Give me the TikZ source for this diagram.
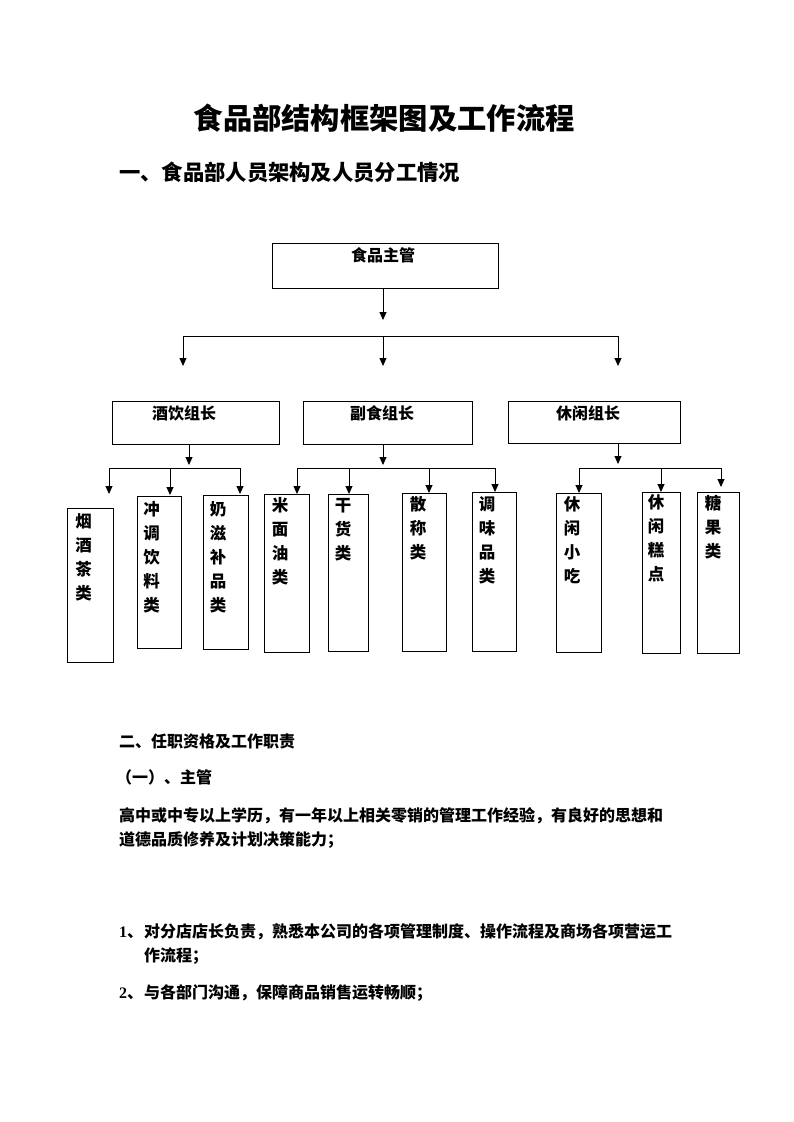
\documentclass[tikz,border=0pt]{standalone}
\usepackage{fontspec}
\setmainfont{Noto Sans CJK SC}
\newfontfamily\latserif{Liberation Serif}
\usetikzlibrary{arrows.meta}
\begin{document}
\begin{tikzpicture}[x=1pt,y=-1pt,
  bx/.style={draw,line width=0.9pt,inner sep=0,outer sep=0},
  ln/.style={line width=0.9pt},
  arr/.style={line width=0.9pt,-{Triangle[length=8pt,width=7pt]}},
  lbl/.style={anchor=base,inner sep=0,font=\bfseries\fontsize{16}{20}\selectfont},
  col/.style={anchor=north,inner sep=0,align=center,font=\bfseries\fontsize{16.5}{24}\selectfont},
  txt/.style={anchor=base west,inner sep=0,font=\bfseries\fontsize{16}{20}\selectfont}]
\fill[white] (0,0) rectangle (793,1122);
\useasboundingbox (0,0) rectangle (793,1122);

% titles
\node[anchor=base west,inner sep=0,font=\bfseries\fontsize{29.3}{35}\selectfont] (title) at (193.5,129) {食品部结构框架图及工作流程};
\node[anchor=base west,inner sep=0,font=\bfseries\fontsize{21.3}{26}\selectfont] (h1) at (119,180) {一、食品部人员架构及人员分工情况};

% top box
\node[bx,minimum width=226pt,minimum height=45pt] (top) at (385,265.5) {};
\node[lbl] (topt) at (383,261.1) {食品主管};
\coordinate (t1) at (383,320);
\draw[arr] (top.south -| t1) -- (t1);

% bar 1
\coordinate (b1l) at (183,336);
\coordinate (b1m) at (383,336);
\coordinate (b1r) at (618,336);
\coordinate (e1l) at (183,366);
\coordinate (e1m) at (383,366);
\coordinate (e1r) at (618,366);
\draw[ln] (b1l) -- (b1r);
\draw[arr] (b1l) -- (e1l);
\draw[arr] (b1m) -- (e1m);
\draw[arr] (b1r) -- (e1r);

% mid boxes
\node[bx,minimum width=167pt,minimum height=43pt] (A) at (195.5,422.5) {};
\node[lbl] (At) at (184,419.1) {酒饮组长};
\node[bx,minimum width=169pt,minimum height=43pt] (B) at (387.5,422.5) {};
\node[lbl] (Bt) at (382,419.1) {副食组长};
\node[bx,minimum width=172pt,minimum height=42pt] (C) at (594,422) {};
\node[lbl] (Ct) at (588,419.1) {休闲组长};

\coordinate (ea) at (189,465);
\coordinate (eb) at (383,465);
\coordinate (ec) at (618,464);
\draw[arr] (A.south -| ea) -- (ea);
\draw[arr] (B.south -| eb) -- (eb);
\draw[arr] (C.south -| ec) -- (ec);

% bar 2 left
\coordinate (p1) at (109,468);
\coordinate (p2) at (170,468);
\coordinate (p3) at (240,468);
\draw[ln] (p1) -- (p3);
% bar 2 middle
\coordinate (p4) at (297,468);
\coordinate (p5) at (349,468);
\coordinate (p6) at (429,468);
\coordinate (p7) at (495,468);
\draw[ln] (p4) -- (p7);
% bar 2 right
\coordinate (p8) at (579,468);
\coordinate (p9) at (661,468);
\coordinate (p10) at (721,468);
\draw[ln] (p8) -- (p10);

% leaf boxes
\node[bx,minimum width=46pt,minimum height=154pt] (L1) at (90,585) {};
\node[bx,minimum width=44pt,minimum height=152pt] (L2) at (159,572) {};
\node[bx,minimum width=45pt,minimum height=154pt] (L3) at (225.5,572) {};
\node[bx,minimum width=45pt,minimum height=158pt] (L4) at (286.5,573) {};
\node[bx,minimum width=40pt,minimum height=157pt] (L5) at (348,572.5) {};
\node[bx,minimum width=44pt,minimum height=158pt] (L6) at (424,572) {};
\node[bx,minimum width=44pt,minimum height=159pt] (L7) at (494,571.5) {};
\node[bx,minimum width=45pt,minimum height=159pt] (L8) at (578.5,572.5) {};
\node[bx,minimum width=38pt,minimum height=161pt] (L9) at (661,572.5) {};
\node[bx,minimum width=42pt,minimum height=161pt] (L10) at (718,572.5) {};

\coordinate (q1) at (109,494);
\coordinate (q2) at (170,495);
\coordinate (q3) at (240,494);
\coordinate (q4) at (297,494);
\coordinate (q5) at (349,494);
\coordinate (q6) at (429,493);
\coordinate (q7) at (495,492);
\coordinate (q8) at (579,493);
\coordinate (q9) at (661,492);
\coordinate (q10) at (721,487);
\foreach \i in {1,...,10} {\draw[arr] (p\i) -- (q\i);}

% leaf texts
\node[col] (T1) at (83.5,512.7) {\rule{0pt}{0.88em}烟\\酒\\茶\\类};
\node[col] (T2) at (151.5,501.2) {\rule{0pt}{0.88em}冲\\调\\饮\\料\\类};
\node[col] (T3) at (218,500.7) {\rule{0pt}{0.88em}奶\\滋\\补\\品\\类};
\node[col] (T4) at (280,496.7) {\rule{0pt}{0.88em}米\\面\\油\\类};
\node[col] (T5) at (343,496.7) {\rule{0pt}{0.88em}干\\货\\类};
\node[col] (T6) at (418,495.7) {\rule{0pt}{0.88em}散\\称\\类};
\node[col] (T7) at (487,495.7) {\rule{0pt}{0.88em}调\\味\\品\\类};
\node[col] (T8) at (572,495.7) {\rule{0pt}{0.88em}休\\闲\\小\\吃};
\node[col] (T9) at (656,494) {\rule{0pt}{0.88em}休\\闲\\糕\\点};
\node[col] (T10) at (713,494.7) {\rule{0pt}{0.88em}糖\\果\\类};

% section two
\node[txt] (s1) at (119,747) {二、任职资格及工作职责};
\node[txt] (s2) at (116,783) {（一）、主管};
\node[txt] (s3) at (119,821) {高中或中专以上学历，有一年以上相关零销的管理工作经验，有良好的思想和};
\node[txt] (s4) at (119,845) {道德品质修养及计划决策能力；};
\node[txt] (s5) at (119,937) {\makebox[25pt][l]{{\latserif\bfseries 1}、}对分店店长负责，熟悉本公司的各项管理制度、操作流程及商场各项营运工};
\node[txt] (s6) at (144,961) {作流程；};
\node[txt] (s7) at (119,998) {\makebox[25pt][l]{{\latserif\bfseries 2}、}与各部门沟通，保障商品销售运转畅顺；};
\end{tikzpicture}
\end{document}
